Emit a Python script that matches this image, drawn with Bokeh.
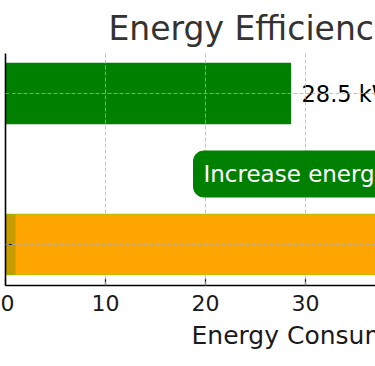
from bokeh.plotting import figure
from bokeh.models import Range1d, Label, Title
from bokeh.embed import file_html
from bokeh.resources import INLINE
from bokeh.core.properties import value

# ---- data ----
categories = ["Current Usage", "Efficient Usage"]
positions = [0, 1]
consumption = [45.0, 28.5]
bar_colors = ["orange", "green"]
edge_colors = ["#c2bc00", "green"]
shown_positions = [1]
shown_values = [28.5]
shown_labels = ["28.5 kWh"]
overlay_positions = [0]
overlay_values = [1.0]
x_ticks = [0, 10, 20, 30, 40]
note_text = "Increase energy efficiency"
title_text = "Energy Efficiency Comparison"
xlabel_text = "Energy Consumption (kWh)"

FONT = "DejaVu Sans"
W, H = 375, 366

p = figure(width=W, height=H, output_backend="svg", toolbar_location=None,
           x_range=Range1d(0, 37.0), y_range=Range1d(-0.2715, 1.265),
           min_border_left=5, min_border_right=0, min_border_top=53,
           min_border_bottom=81)
p.outline_line_color = None
p.background_fill_color = "white"
p.border_fill_color = "white"

p.hbar(y=positions, left=0, right=consumption, height=0.4,
       fill_color=bar_colors, line_color=edge_colors, line_width=1.2)
p.hbar(y=overlay_positions, left=0, right=overlay_values, height=0.4,
       fill_color="green", fill_alpha=0.22, line_color=None)

p.text(x=[v + 1.1 for v in shown_values], y=shown_positions, text=shown_labels,
       text_font=value(FONT), text_font_size="22.5px", text_baseline="middle",
       text_align="left", text_color="black")

note = Label(x=18.8, y=0.467, text=note_text, text_font=FONT,
             text_font_size="23px", text_color="white", text_baseline="middle",
             text_align="left", background_fill_color="green",
             border_line_color="green", padding=10, border_radius=10)
p.add_layout(note)

# title
p.title.text = title_text
p.title.text_font = FONT
p.title.text_font_size = "33px"
p.title.text_font_style = "normal"
p.title.text_color = "#333333"
p.title.align = "left"
p.title.offset = 103
p.title.standoff = 11

# axes
p.xaxis.ticker = x_ticks
p.yaxis.ticker = positions
p.yaxis.major_label_overrides = {i: "" for i in positions}
for ax in (p.xaxis, p.yaxis):
    ax.axis_line_color = "black"
    ax.axis_line_width = 1.6
    ax.major_tick_line_color = "black"
    ax.major_tick_line_width = 1.2
    ax.major_tick_in = 7
    ax.major_tick_out = 0
    ax.minor_tick_line_color = None
    ax.major_label_text_font = FONT
p.xaxis.major_label_text_font_size = "22px"
p.xaxis.major_label_text_color = "#1a1a1a"
p.xaxis.major_label_standoff = 9
p.yaxis.major_label_standoff = 0

xl = Title(text=xlabel_text, align="left", offset=186, text_font=FONT,
           text_font_size="25px", text_font_style="normal",
           text_color="#1a1a1a", standoff=10)
p.add_layout(xl, "below")

p.grid.grid_line_color = "#b0b0b0"
p.grid.grid_line_alpha = 0.75
p.grid.grid_line_dash = "4 2"
p.grid.grid_line_width = 1
p.grid.level = "guide"

open("out.html", "w").write(file_html(p, INLINE))
